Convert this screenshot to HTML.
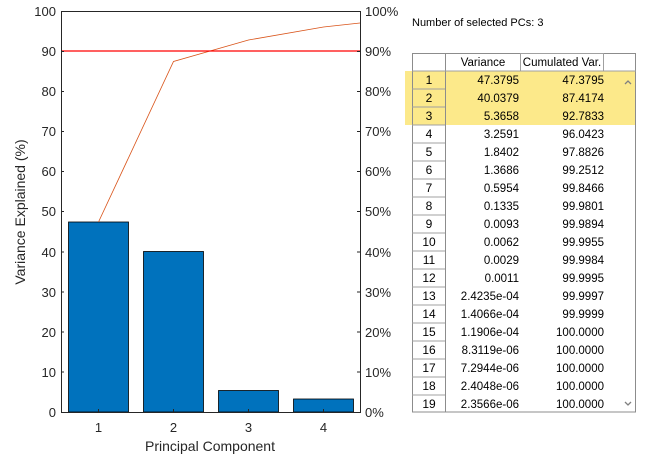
<!DOCTYPE html>
<html><head><meta charset="utf-8"><style>body{margin:0;background:#fff}svg{display:block}text{font-family:"Liberation Sans",Arial,sans-serif}</style></head><body>
<svg width="665" height="459" viewBox="0 0 665 459" xmlns="http://www.w3.org/2000/svg">
<rect width="665" height="459" fill="#fff"/>
<g fill="#0072bd" stroke="#000" stroke-width="0.8">
<rect x="68.5" y="222" width="60" height="190"/>
<rect x="143.5" y="251.5" width="60" height="160.5"/>
<rect x="218.5" y="390.5" width="60" height="21.5"/>
<rect x="293.5" y="399" width="60" height="13"/>
</g>
<polyline points="98.5,222 173.5,61.5 248.5,40 323.5,27 360,23" fill="none" stroke="#d95319" stroke-width="0.8"/>
<line x1="61" y1="51" x2="360" y2="51" stroke="#ff0000" stroke-width="1.3"/>
<rect x="61.5" y="11.5" width="299" height="401" fill="none" stroke="#262626" stroke-width="1"/>
<g stroke="#262626" stroke-width="1">
<line x1="98.5" y1="412" x2="98.5" y2="409"/><line x1="173.5" y1="412" x2="173.5" y2="409"/><line x1="248.5" y1="412" x2="248.5" y2="409"/><line x1="323.5" y1="412" x2="323.5" y2="409"/>
<line x1="61" y1="372" x2="64" y2="372"/><line x1="61" y1="332" x2="64" y2="332"/><line x1="61" y1="292" x2="64" y2="292"/><line x1="61" y1="252" x2="64" y2="252"/><line x1="61" y1="211.5" x2="64" y2="211.5"/><line x1="61" y1="171.5" x2="64" y2="171.5"/><line x1="61" y1="131.5" x2="64" y2="131.5"/><line x1="61" y1="91.5" x2="64" y2="91.5"/><line x1="61" y1="51.5" x2="64" y2="51.5"/>
<line x1="357" y1="372" x2="360" y2="372"/><line x1="357" y1="332" x2="360" y2="332"/><line x1="357" y1="292" x2="360" y2="292"/><line x1="357" y1="252" x2="360" y2="252"/><line x1="357" y1="211.5" x2="360" y2="211.5"/><line x1="357" y1="171.5" x2="360" y2="171.5"/><line x1="357" y1="131.5" x2="360" y2="131.5"/><line x1="357" y1="91.5" x2="360" y2="91.5"/><line x1="357" y1="51.5" x2="360" y2="51.5"/>
</g>
<g font-size="13" fill="#262626" text-anchor="end">
<text x="56" y="417">0</text><text x="56" y="377">10</text><text x="56" y="337">20</text><text x="56" y="297">30</text><text x="56" y="257">40</text><text x="56" y="216">50</text><text x="56" y="176">60</text><text x="56" y="136">70</text><text x="56" y="96">80</text><text x="56" y="56">90</text><text x="56" y="16">100</text>
</g>
<g font-size="13" fill="#262626">
<text x="365" y="417">0%</text><text x="365" y="377">10%</text><text x="365" y="337">20%</text><text x="365" y="297">30%</text><text x="365" y="257">40%</text><text x="365" y="216">50%</text><text x="365" y="176">60%</text><text x="365" y="136">70%</text><text x="365" y="96">80%</text><text x="365" y="56">90%</text><text x="365" y="16">100%</text>
</g>
<g font-size="13" fill="#262626" text-anchor="middle">
<text x="98.5" y="432">1</text><text x="173.5" y="432">2</text><text x="248.5" y="432">3</text><text x="323.5" y="432">4</text>
<text x="210" y="451" font-size="14">Principal Component</text>
<text transform="translate(25,212) rotate(-90)" font-size="14">Variance Explained (%)</text>
</g>
<text x="412" y="26" font-size="11" fill="#000">Number of selected PCs: 3</text>
<rect x="405" y="71" width="231" height="54" fill="#fce98a"/>
<rect x="412.5" y="53.5" width="223" height="358.5" fill="none" stroke="#8c8c8c"/>
<line x1="445.5" y1="53" x2="445.5" y2="412" stroke="#8c8c8c"/>
<rect x="520.5" y="53.5" width="83" height="17.5" fill="none" stroke="#a0a0a0"/>
<line x1="412" y1="71" x2="636" y2="71" stroke="#a0a0a0"/>
<g stroke="#a0a0a0"><line x1="412" y1="89" x2="445" y2="89"/><line x1="412" y1="107" x2="445" y2="107"/><line x1="412" y1="125" x2="445" y2="125"/><line x1="412" y1="143" x2="445" y2="143"/><line x1="412" y1="161" x2="445" y2="161"/><line x1="412" y1="179" x2="445" y2="179"/><line x1="412" y1="197" x2="445" y2="197"/><line x1="412" y1="215" x2="445" y2="215"/><line x1="412" y1="233" x2="445" y2="233"/><line x1="412" y1="251" x2="445" y2="251"/><line x1="412" y1="269" x2="445" y2="269"/><line x1="412" y1="287" x2="445" y2="287"/><line x1="412" y1="305" x2="445" y2="305"/><line x1="412" y1="323" x2="445" y2="323"/><line x1="412" y1="341" x2="445" y2="341"/><line x1="412" y1="359" x2="445" y2="359"/><line x1="412" y1="377" x2="445" y2="377"/><line x1="412" y1="395" x2="445" y2="395"/></g>
<g font-size="11.5" fill="#000"><text x="483" y="66" text-anchor="middle">Variance</text><text x="562" y="66" text-anchor="middle">Cumulated Var.</text></g>
<g font-size="12" fill="#000" text-anchor="middle">
<text x="429" y="84">1</text><text x="429" y="102">2</text><text x="429" y="120">3</text><text x="429" y="138">4</text><text x="429" y="156">5</text><text x="429" y="174">6</text><text x="429" y="192">7</text><text x="429" y="210">8</text><text x="429" y="228">9</text><text x="429" y="246">10</text><text x="429" y="264">11</text><text x="429" y="282">12</text><text x="429" y="300">13</text><text x="429" y="318">14</text><text x="429" y="336">15</text><text x="429" y="354">16</text><text x="429" y="372">17</text><text x="429" y="390">18</text><text x="429" y="408">19</text>
</g>
<g font-size="11.5" fill="#000" text-anchor="end">
<text x="519" y="84">47.3795</text><text x="519" y="102">40.0379</text><text x="519" y="120">5.3658</text><text x="519" y="138">3.2591</text><text x="519" y="156">1.8402</text><text x="519" y="174">1.3686</text><text x="519" y="192">0.5954</text><text x="519" y="210">0.1335</text><text x="519" y="228">0.0093</text><text x="519" y="246">0.0062</text><text x="519" y="264">0.0029</text><text x="519" y="282">0.0011</text><text x="519" y="300">2.4235e-04</text><text x="519" y="318">1.4066e-04</text><text x="519" y="336">1.1906e-04</text><text x="519" y="354">8.3119e-06</text><text x="519" y="372">7.2944e-06</text><text x="519" y="390">2.4048e-06</text><text x="519" y="408">2.3566e-06</text>
<text x="604" y="84">47.3795</text><text x="604" y="102">87.4174</text><text x="604" y="120">92.7833</text><text x="604" y="138">96.0423</text><text x="604" y="156">97.8826</text><text x="604" y="174">99.2512</text><text x="604" y="192">99.8466</text><text x="604" y="210">99.9801</text><text x="604" y="228">99.9894</text><text x="604" y="246">99.9955</text><text x="604" y="264">99.9984</text><text x="604" y="282">99.9995</text><text x="604" y="300">99.9997</text><text x="604" y="318">99.9999</text><text x="604" y="336">100.0000</text><text x="604" y="354">100.0000</text><text x="604" y="372">100.0000</text><text x="604" y="390">100.0000</text><text x="604" y="408">100.0000</text>
</g>
<polyline points="625,84 628,81 631,84" fill="none" stroke="#808080" stroke-width="1.3"/>
<polyline points="625,402 628,405 631,402" fill="none" stroke="#808080" stroke-width="1.3"/>
</svg>
</body></html>
